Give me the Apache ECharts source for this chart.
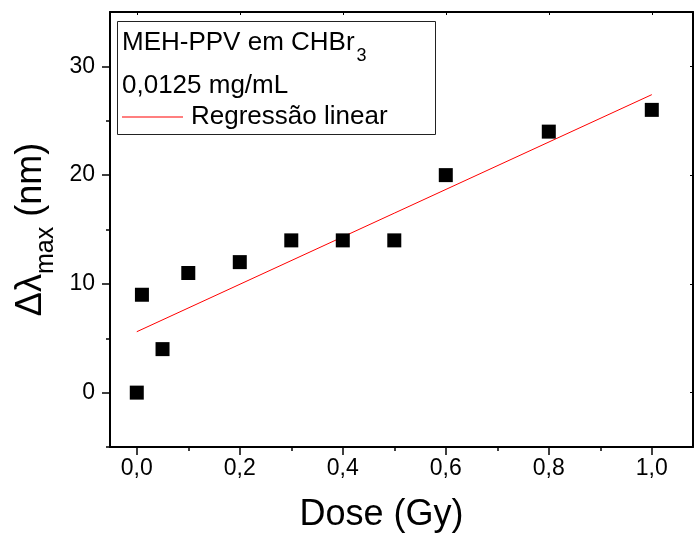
<!DOCTYPE html>
<html>
<head>
<meta charset="utf-8">
<script src="https://cdn.jsdelivr.net/npm/echarts@6/dist/echarts.min.js"></script>
<style>
  html, body { margin: 0; padding: 0; background: #fff; }
  #chart { width: 694px; height: 533px; }
</style>
</head>
<body>
<div id="chart"></div>
<script>
// Shift of the absorption maximum versus dose
const doses = [0, 0.01, 0.05, 0.1, 0.2, 0.3, 0.4, 0.5, 0.6, 0.8, 1.0];
const shifts = [0, 9, 4, 11, 12, 14, 14, 14, 20, 24, 26];

// Linear fit end points
const fitX = [0, 1.0];
const fitY = [5.6, 27.4];

// Tick positions and labels
const xMajor = [0, 0.2, 0.4, 0.6, 0.8, 1.0];
const xMinor = [0.1, 0.3, 0.5, 0.7, 0.9];
const yMajor = [0, 10, 20, 30];
const yMinor = [-5, 5, 15, 25];

const FONT = '"Liberation Sans", Arial, sans-serif';
const X_MIN = -0.052, X_MAX = 1.08, Y_MIN = -5, Y_MAX = 35;

const fmt = v => v.toFixed(1).replace('.', ',');

const chart = echarts.init(document.getElementById('chart'), null, { renderer: 'canvas' });

const baseX = {
  type: 'value', min: X_MIN, max: X_MAX,
  splitLine: { show: false }
};
const baseY = {
  type: 'value', min: Y_MIN, max: Y_MAX,
  splitLine: { show: false }
};

chart.setOption({
  animation: false,
  backgroundColor: '#fff',
  grid: { left: 110, top: 12, right: 1, bottom: 86, outerBoundsMode: 'none' },
  xAxis: [
    Object.assign({}, baseX, {
      position: 'bottom',
      axisLine: { show: true, onZero: false, lineStyle: { color: '#000', width: 2 } },
      axisTick: { show: true, length: 8, customValues: xMajor, lineStyle: { color: '#000', width: 1.5 } },
      axisLabel: {
        show: true, customValues: xMajor, margin: 10,
        formatter: v => fmt(v),
        color: '#000', fontSize: 23, fontFamily: FONT
      },
      name: 'Dose (Gy)', nameLocation: 'middle', nameGap: 50,
      nameTextStyle: { color: '#000', fontSize: 36, fontFamily: FONT, padding: [0, 40, 0, 0] }
    }),
    Object.assign({}, baseX, {
      position: 'bottom',
      axisLine: { show: false, onZero: false },
      axisTick: { show: true, length: 4, customValues: xMinor, lineStyle: { color: '#000', width: 1.5 } },
      axisLabel: { show: false }
    }),
    Object.assign({}, baseX, {
      position: 'top',
      axisLine: { show: true, onZero: false, lineStyle: { color: '#000', width: 2 } },
      axisTick: { show: true, inside: true, length: 3, customValues: xMajor, lineStyle: { color: '#000', width: 1 } },
      axisLabel: { show: false }
    })
  ],
  yAxis: [
    Object.assign({}, baseY, {
      position: 'left',
      axisLine: { show: true, onZero: false, lineStyle: { color: '#000', width: 2 } },
      axisTick: { show: true, length: 8, customValues: yMajor, lineStyle: { color: '#000', width: 1.5 } },
      axisLabel: {
        show: true, customValues: yMajor, margin: 15,
        color: '#000', fontSize: 23, fontFamily: FONT
      },
      name: '{t|Δλ}{s|max}{t| (nm)}', nameLocation: 'middle', nameGap: 54, nameRotate: 90,
      nameTextStyle: {
        color: '#000', fontFamily: FONT,
        rich: {
          t: { fontSize: 36, fontFamily: FONT, color: '#000', lineHeight: 40, verticalAlign: 'top' },
          s: { fontSize: 25, fontFamily: FONT, color: '#000', lineHeight: 26, padding: [20, 0, 0, 0], verticalAlign: 'top' }
        }
      }
    }),
    Object.assign({}, baseY, {
      position: 'left',
      axisLine: { show: false, onZero: false },
      axisTick: { show: true, length: 4, customValues: yMinor, lineStyle: { color: '#000', width: 1.5 } },
      axisLabel: { show: false }
    }),
    Object.assign({}, baseY, {
      position: 'right',
      axisLine: { show: true, onZero: false, lineStyle: { color: '#000', width: 2 } },
      axisTick: { show: true, inside: true, length: 3, customValues: yMajor, lineStyle: { color: '#000', width: 1 } },
      axisLabel: { show: false }
    })
  ],
  legend: {
    show: true,
    left: 122, top: 104, padding: 0,
    icon: 'rect',
    itemWidth: 61, itemHeight: 1, itemGap: 0,
    data: ['Regressão linear'],
    textStyle: { color: '#000', fontSize: 26, fontFamily: FONT, padding: [3, 0, 0, 3] }
  },
  graphic: [
    {
      type: 'rect', z: 10, silent: true,
      shape: { x: 117.5, y: 21.5, width: 318, height: 113 },
      style: { fill: null, stroke: '#222', lineWidth: 1 }
    },
    {
      type: 'text', z: 11, silent: true,
      x: 122, y: 30,
      style: {
        text: '{t|MEH-PPV em CHBr}{s|3}',
        rich: {
          t: { fontSize: 26, fontFamily: FONT, fill: '#000', lineHeight: 28, verticalAlign: 'top' },
          s: { fontSize: 18, fontFamily: FONT, fill: '#000', lineHeight: 19, padding: [17, 0, 0, 2], verticalAlign: 'top' }
        }
      }
    },
    {
      type: 'text', z: 11, silent: true,
      x: 122, y: 73,
      style: { text: '0,0125 mg/mL', fontSize: 26, fontFamily: FONT, fill: '#000' }
    }
  ],
  series: [
    {
      name: 'Scatter',
      type: 'scatter',
      xAxisIndex: 0, yAxisIndex: 0,
      symbol: 'rect', symbolSize: 14,
      itemStyle: { color: '#000', opacity: 1 },
      data: doses.map((d, i) => [d, shifts[i]]),
      z: 3
    },
    {
      name: 'Regressão linear',
      type: 'line',
      xAxisIndex: 0, yAxisIndex: 0,
      symbol: 'none', showSymbol: false,
      lineStyle: { color: '#ff0000', width: 1 },
      itemStyle: { color: '#ff0000' },
      data: fitX.map((x, i) => [x, fitY[i]]),
      z: 2
    }
  ]
});
</script>
</body>
</html>
